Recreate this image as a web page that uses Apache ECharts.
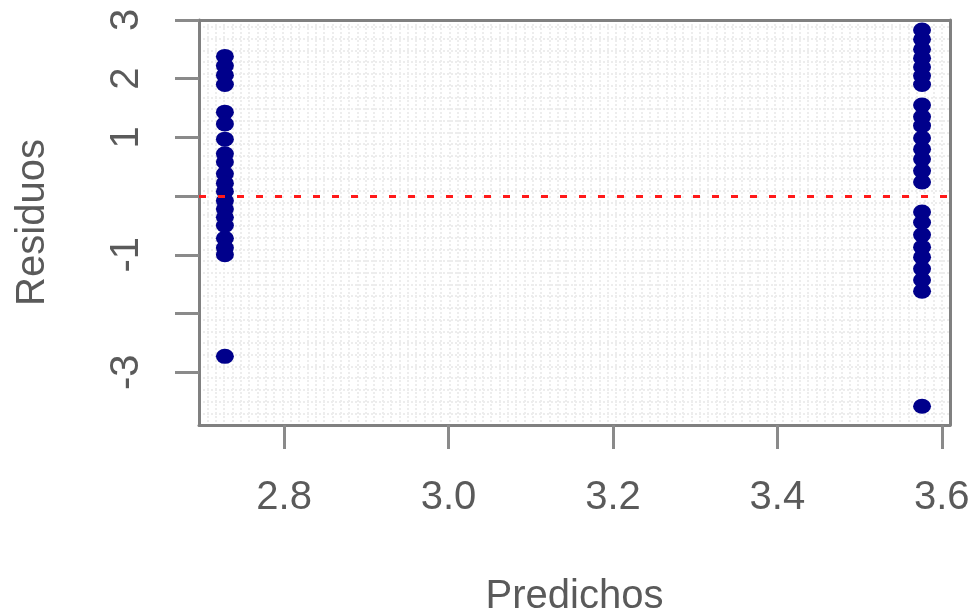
<!DOCTYPE html>
<html>
<head>
<meta charset="utf-8">
<script src="https://cdn.jsdelivr.net/npm/echarts@6/dist/echarts.min.js"></script>
<style>
  html, body { margin: 0; padding: 0; background: #fff; }
  #chart { width: 972px; height: 612px; }
</style>
</head>
<body>
<div id="chart"></div>
<script>
// valores ajustados (dos grupos) y residuos
var predLeft = 2.728
var predRight = 3.576
var residLeft = [2.38, 2.22, 2.06, 1.9, 1.43, 1.23, 0.97, 0.72, 0.58, 0.38, 0.22, 0.08, -0.08, -0.22, -0.36, -0.5, -0.72, -0.88, -1.0, -2.73]
var residRight = [2.83, 2.67, 2.5, 2.35, 2.2, 2.05, 1.9, 1.55, 1.35, 1.2, 0.99, 0.8, 0.63, 0.43, 0.24, -0.27, -0.45, -0.66, -0.87, -1.04, -1.24, -1.43, -1.62, -3.58]
var xTicks = [2.8, 3.0, 3.2, 3.4, 3.6]
var yTicks = [-3, -2, -1, 0, 1, 2, 3]
var yLabels = [-3, -1, 1, 2, 3]

var points = []
residLeft.forEach(function(v) { points.push([predLeft, v]) })
residRight.forEach(function(v) { points.push([predRight, v]) })

var textColor = '#5a5a5a'
var font = 'Liberation Sans'
var frame = { color: '#808080', width: 3 }
var tickStyle = { color: '#8a8a8a', width: 3 }
var gridLine = {
  show: true,
  showMinLine: false,
  showMaxLine: false,
  lineStyle: { color: '#ededed', width: 2, type: 'dotted' }
}

var chart = echarts.init(document.getElementById('chart'))
chart.setOption({
  animation: false,
  backgroundColor: '#fff',
  grid: {
    left: 199,
    right: 22,
    top: 20,
    bottom: 187,
    outerBoundsMode: 'none',
    containLabel: false
  },
  xAxis: [
    {
      type: 'value',
      min: 2.6965,
      max: 3.61,
      name: 'Predichos',
      nameLocation: 'middle',
      nameGap: 152,
      nameTextStyle: { fontSize: 40, color: textColor, fontFamily: font },
      axisLine: { show: true, onZero: false, lineStyle: frame },
      splitLine: { show: false },
      axisTick: { show: true, length: 24, lineStyle: tickStyle, customValues: xTicks },
      axisLabel: {
        fontSize: 40,
        color: textColor,
        fontFamily: font,
        margin: 53,
        customValues: xTicks,
        formatter: function(v) { return v.toFixed(1) }
      }
    },
    {
      // solo para la cuadricula fina y el borde superior
      type: 'value',
      position: 'top',
      min: 0,
      max: 90,
      interval: 1,
      axisLine: { show: true, onZero: false, lineStyle: frame },
      axisTick: { show: false },
      axisLabel: { show: false },
      splitLine: gridLine
    }
  ],
  yAxis: [
    {
      type: 'value',
      min: -3.9,
      max: 3.0,
      name: 'Residuos',
      nameLocation: 'middle',
      nameRotate: 90,
      nameGap: 146,
      nameTextStyle: { fontSize: 40, color: textColor, fontFamily: font },
      axisLine: { show: true, onZero: false, lineStyle: frame },
      splitLine: { show: false },
      axisTick: { show: true, length: 24, lineStyle: tickStyle, customValues: yTicks },
      axisLabel: {
        fontSize: 40,
        color: textColor,
        fontFamily: font,
        rotate: 90,
        margin: 52,
        customValues: yLabels,
        formatter: function(v) { return String(v) }
      }
    },
    {
      type: 'value',
      position: 'right',
      min: 0,
      max: 34.6,
      interval: 1,
      axisLine: { show: true, onZero: false, lineStyle: frame },
      axisTick: { show: false },
      axisLabel: { show: false },
      splitLine: gridLine
    }
  ],
  series: [
    {
      type: 'scatter',
      xAxisIndex: 0,
      yAxisIndex: 0,
      data: points,
      symbol: 'circle',
      symbolSize: [18, 15],
      itemStyle: { color: '#00008b', opacity: 1 },
      markLine: {
        silent: true,
        symbol: ['none', 'none'],
        label: { show: false },
        lineStyle: { color: '#ff1a1a', type: [7, 12], width: 3 },
        data: [{ yAxis: 0 }]
      }
    }
  ]
})
</script>
</body>
</html>
